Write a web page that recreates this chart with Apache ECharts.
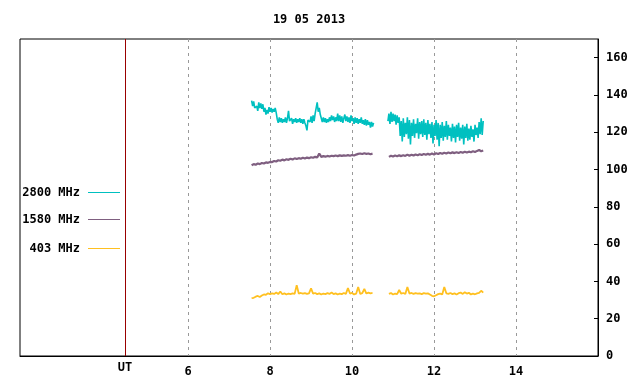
<!DOCTYPE html>
<html>
<head>
<meta charset="utf-8">
<script src="https://cdn.jsdelivr.net/npm/echarts@6/dist/echarts.min.js"></script>
<style>
html,body{margin:0;padding:0;background:#fff;}
#chart{width:640px;height:384px;}
</style>
</head>
<body>
<div id="chart"></div>
<script>
// ---------- DATA ----------
const titleText = '19 05 2013';
const seriesNames = ['2800 MHz', '1580 MHz', '403 MHz'];
const xTicks = [6, 8, 10, 12, 14];
const utPosition = 4.46;
const utLabel = 'UT';
const xMin = 1.9, xMax = 16;
const yMin = 0, yMax = 170, yInterval = 20;

// 2800 MHz, sampled every 0.025 h
const c2800StartA = 7.55, c2800StartB = 10.875, c2800Step = 0.025;
const c2800A = [137,134,136.5,133,132,134,131.5,136,133,135.5,132.5,135,131,133,129.5,132,130,133.5,131,133,
130.5,132.5,131,133,130.5,127,125,128,125.5,127.5,125,127,125.5,128,125,127.5,131.5,126,125,127.5,
124.5,127,125.5,127.5,125,127,125.5,127.5,125,127,124.5,127,125,123.5,121,126.5,127.5,125.5,128.5,125,
129,126,130,131,136,131,133,129.5,127.5,125.5,128,125.5,127.5,125,127,125.5,128,126,129,126.5,
128.5,125.5,128,126,130,126,129,125.5,128.5,125,127.5,129.5,126,128.5,125.5,128,125,129,126,127.5,
124.5,128,125,127.5,124.5,127,125,128,124.5,126.5,124,127,123.5,126.5,124,125.5,122.5,125.5,123,125];
const c2800B = [126,130,124.5,131,125.5,130,126,129.5,124,129,125,128,118,126,115,127.5,117.5,125,119,128,
116.5,126.5,113.5,125,118,127,117,124.5,119.5,127.5,116.5,125.5,119,126,117.5,127,118.5,125,116,126.5,
119,124.5,117,125.5,114,124,118,126.5,116,125,112.5,124,117,125.5,115.5,123.5,117.5,126,116,124,
118,122.5,115,124.5,117,123,114.5,124,117.5,125,115.5,122.5,116.5,124,113.5,123,117,124.5,115.5,122,
116,123.5,117.5,121.5,115,124,118.5,122.5,117,125.5,119,127.5,118.5,126];

// 1580 MHz, sampled every 0.05 h
const c1580StartA = 7.55, c1580StartB = 10.9, c1580Step = 0.05;
const c1580A = [102.3,102.9,102.6,103.2,102.9,103.5,103.2,103.8,103.6,104.1,104.0,104.6,104.3,105.0,104.7,105.3,104.9,105.5,105.2,105.8,
105.4,106.0,105.6,106.1,105.8,106.3,105.9,106.4,106.1,106.6,106.3,106.8,106.5,108.6,106.8,107.2,106.9,107.3,107.0,107.4,
107.2,107.5,107.2,107.6,107.3,107.6,107.4,107.7,107.4,107.8,107.5,108.0,108.4,108.6,108.3,108.7,108.4,108.6,108.2,108.5];
const c1580B = [106.8,107.4,107.0,107.5,107.1,107.6,107.2,107.7,107.3,108.0,107.4,107.9,107.5,108.1,107.7,108.2,107.8,108.3,107.9,108.4,
108.0,108.6,108.1,108.7,108.3,108.9,108.5,109.0,108.6,109.1,108.7,109.2,108.8,109.3,108.9,109.4,109.0,109.5,109.1,109.6,
109.3,109.8,109.4,110.0,110.5,109.8,110.2];

// 403 MHz, sampled every 0.05 h
const c403StartA = 7.55, c403StartB = 10.9, c403Step = 0.05;
const c403A = [31.0,31.2,31.8,32.2,31.6,32.4,33.0,32.8,33.6,33.2,33.6,33.3,34.0,33.2,34.6,33.1,33.6,33.0,33.5,33.2,
33.6,33.3,38.0,33.5,33.8,33.4,33.7,33.3,33.6,36.3,33.4,33.8,33.2,33.6,33.0,33.5,33.2,33.7,33.3,34.0,
33.2,33.6,33.0,33.5,33.2,33.8,33.3,36.5,33.5,33.8,33.0,33.4,37.0,33.3,33.7,36.0,33.5,34.0,33.6,33.8];
const c403B = [33.3,33.8,33.0,33.5,33.2,35.4,33.4,33.8,33.3,37.0,33.5,33.8,33.3,33.7,33.4,33.6,33.2,33.7,33.4,33.6,
33.0,32.3,32.0,32.6,33.2,33.5,33.0,37.0,33.6,33.3,33.8,33.2,33.6,33.0,33.7,34.0,33.3,34.2,33.5,33.9,
33.0,33.4,33.1,33.6,33.8,35.0,34.0];

const colors = ['#00c0c0', '#7f5f80', '#ffc020'];

// ---------- BUILD ----------
function seg(start, step, vals) {
  return vals.map((v, i) => [+(start + i * step).toFixed(4), v]);
}
function joined(startA, startB, step, a, b) {
  const A = seg(startA, step, a), B = seg(startB, step, b);
  const gapX = (A[A.length - 1][0] + B[0][0]) / 2;
  return A.concat([[gapX, '-']], B);
}
const dataSets = [
  joined(c2800StartA, c2800StartB, c2800Step, c2800A, c2800B),
  joined(c1580StartA, c1580StartB, c1580Step, c1580A, c1580B),
  joined(c403StartA, c403StartB, c403Step, c403A, c403B)
];
const lineWidths = [1.6, 2.2, 1.8];

const FONT = '"DejaVu Sans Mono", "Liberation Mono", monospace';
const textBase = {fontFamily: FONT, fontWeight: 'bold', fontSize: 12, color: '#000'};

const legendTops = [186.5, 213.5, 242.5];

const series = dataSets.map((d, i) => ({
  name: seriesNames[i],
  type: 'line',
  data: d,
  showSymbol: false,
  symbol: 'none',
  connectNulls: false,
  lineStyle: {width: lineWidths[i], color: colors[i]},
  itemStyle: {color: colors[i]},
  silent: true,
  z: 3
}));
series[0].markLine = {
  silent: true,
  symbol: ['none', 'none'],
  lineStyle: {color: '#990000', type: 'solid', width: 1},
  label: Object.assign({show: true, position: 'start', formatter: utLabel, distance: 6}, textBase),
  data: [{xAxis: utPosition}]
};

const option = {
  animation: false,
  backgroundColor: '#fff',
  title: {
    text: titleText,
    left: 304,
    textAlign: 'center',
    top: 9,
    textStyle: textBase
  },
  legend: seriesNames.map((n, i) => ({
    data: [n],
    orient: 'vertical',
    align: 'right',
    right: 520,
    top: legendTops[i],
    padding: 0,
    icon: 'rect',
    itemWidth: 32,
    itemHeight: 1,
    selectedMode: false,
    itemStyle: {color: colors[i], opacity: 1},
    textStyle: Object.assign({padding: [0, 3, 0, 0]}, textBase)
  })),
  grid: {
    left: 20, right: 42, top: 39, bottom: 28,
    show: true, borderColor: '#000', borderWidth: 1, backgroundColor: 'transparent'
  },
  xAxis: {
    type: 'value',
    min: xMin,
    max: xMax,
    axisLine: {show: true, lineStyle: {color: '#000'}},
    axisTick: {show: false, customValues: xTicks},
    axisLabel: Object.assign({customValues: xTicks, margin: 10}, textBase),
    splitLine: {show: true, lineStyle: {color: '#999999', type: [3, 4], width: 1}}
  },
  yAxis: {
    type: 'value',
    position: 'right',
    min: yMin,
    max: yMax,
    interval: yInterval,
    axisLine: {show: true, lineStyle: {color: '#000'}},
    axisTick: {show: true, inside: true, length: 4, lineStyle: {color: '#000'}},
    axisLabel: Object.assign({margin: 8, showMaxLabel: false}, textBase),
    splitLine: {show: false}
  },
  series: series
};

const chart = echarts.init(document.getElementById('chart'), null, {renderer: 'canvas'});
chart.setOption(option);
</script>
</body>
</html>
